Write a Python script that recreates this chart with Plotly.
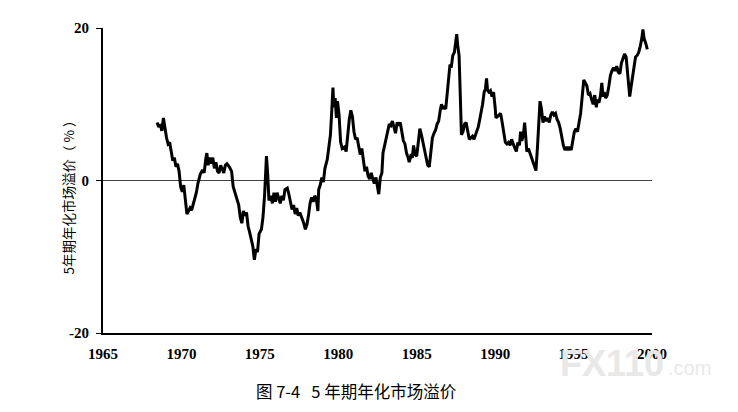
import plotly.graph_objects as go

# 5-year annualised market premium (%)
years = [
    1968.45, 1968.55, 1968.65, 1968.75, 1968.85, 1968.95, 1969.05, 1969.15, 1969.25, 1969.35,
    1969.45, 1969.55, 1969.65, 1969.75, 1969.85, 1969.95, 1970.05, 1970.15, 1970.25, 1970.35,
    1970.45, 1970.55, 1970.65, 1970.75, 1970.85, 1970.95, 1971.05, 1971.2, 1971.35, 1971.45,
    1971.55, 1971.62, 1971.7, 1971.8, 1971.9, 1972.0, 1972.1, 1972.2, 1972.3, 1972.4,
    1972.5, 1972.6, 1972.7, 1972.8, 1972.9, 1973.05, 1973.2, 1973.3, 1973.45, 1973.55,
    1973.65, 1973.75, 1973.85, 1973.95, 1974.05, 1974.15, 1974.25, 1974.35, 1974.45, 1974.55,
    1974.65, 1974.75, 1974.85, 1974.95, 1975.1, 1975.2, 1975.3, 1975.42, 1975.5, 1975.58,
    1975.7, 1975.8, 1975.9, 1976.0, 1976.1, 1976.2, 1976.3, 1976.4, 1976.5, 1976.6,
    1976.75, 1976.85, 1976.95, 1977.05, 1977.15, 1977.25, 1977.35, 1977.45, 1977.55, 1977.7,
    1977.8, 1977.9, 1978.0, 1978.1, 1978.2, 1978.3, 1978.4, 1978.5, 1978.6, 1978.7,
    1978.75, 1978.85, 1978.95, 1979.05, 1979.15, 1979.3, 1979.4, 1979.5, 1979.58, 1979.66,
    1979.72, 1979.8, 1979.88, 1979.95, 1980.05, 1980.15, 1980.25, 1980.4, 1980.5, 1980.6,
    1980.7, 1980.8, 1980.9, 1981.0, 1981.1, 1981.2, 1981.3, 1981.4, 1981.5, 1981.6,
    1981.7, 1981.8, 1981.9, 1982.0, 1982.1, 1982.2, 1982.3, 1982.4, 1982.5, 1982.58,
    1982.68, 1982.78, 1982.85, 1982.95, 1983.05, 1983.15, 1983.25, 1983.35, 1983.45, 1983.55,
    1983.65, 1983.75, 1983.85, 1983.95, 1984.05, 1984.15, 1984.25, 1984.35, 1984.45, 1984.52,
    1984.62, 1984.72, 1984.8, 1984.9, 1985.0, 1985.1, 1985.2, 1985.3, 1985.4, 1985.5,
    1985.6, 1985.7, 1985.8, 1985.9, 1986.0, 1986.1, 1986.2, 1986.3, 1986.4, 1986.5,
    1986.58, 1986.66, 1986.75, 1986.85, 1986.95, 1987.05, 1987.12, 1987.2, 1987.3, 1987.4,
    1987.48, 1987.55, 1987.62, 1987.7, 1987.78, 1987.85, 1987.95, 1988.05, 1988.15, 1988.25,
    1988.35, 1988.45, 1988.55, 1988.65, 1988.75, 1988.85, 1988.92, 1989.0, 1989.1, 1989.2,
    1989.3, 1989.38, 1989.45, 1989.52, 1989.6, 1989.7, 1989.8, 1989.9, 1990.0, 1990.05,
    1990.15, 1990.25, 1990.35, 1990.45, 1990.55, 1990.65, 1990.75, 1990.85, 1990.95, 1991.05,
    1991.15, 1991.25, 1991.35, 1991.45, 1991.55, 1991.62, 1991.7, 1991.8, 1991.88, 1991.95,
    1992.02, 1992.12, 1992.22, 1992.32, 1992.42, 1992.52, 1992.6, 1992.7, 1992.8, 1992.86,
    1992.95, 1993.05, 1993.15, 1993.25, 1993.35, 1993.45, 1993.55, 1993.65, 1993.75, 1993.85,
    1993.95, 1994.05, 1994.15, 1994.25, 1994.35, 1994.45, 1994.55, 1994.65, 1994.75, 1994.85,
    1994.95, 1995.05, 1995.15, 1995.25, 1995.35, 1995.45, 1995.55, 1995.65, 1995.75, 1995.85,
    1995.95, 1996.05, 1996.15, 1996.25, 1996.35, 1996.45, 1996.52, 1996.62, 1996.72, 1996.8,
    1996.88, 1996.95, 1997.05, 1997.15, 1997.25, 1997.35, 1997.45, 1997.55, 1997.65, 1997.75,
    1997.85, 1997.95, 1998.05, 1998.15, 1998.25, 1998.35, 1998.42, 1998.5, 1998.58, 1998.66,
    1998.75, 1998.85, 1998.95, 1999.05, 1999.15, 1999.25, 1999.35, 1999.42, 1999.5, 1999.6,
    1999.7,
]
premium = [
    7.6, 7.0, 7.4, 6.5, 8.2, 6.8, 5.6, 4.8, 5.0, 3.8,
    2.6, 3.0, 1.8, 2.2, 1.2, -0.8, -1.5, -0.6, -2.8, -4.4,
    -4.0, -3.6, -3.9, -3.2, -2.2, -1.6, -0.4, 0.8, 1.4, 1.0,
    2.8, 3.6, 2.0, 3.0, 2.2, 3.0, 1.6, 2.4, 1.2, 1.0,
    2.0, 1.4, 1.0, 2.0, 2.2, 1.8, 1.2, -0.8, -1.8, -2.6,
    -3.2, -4.8, -5.6, -4.0, -4.6, -4.2, -6.0, -6.8, -7.8, -8.6,
    -10.4, -9.0, -9.4, -7.0, -6.4, -4.8, -2.0, 3.2, 0.8, -2.6,
    -2.0, -3.0, -1.6, -2.8, -1.6, -2.2, -3.0, -2.0, -2.6, -1.2,
    -1.0, -1.8, -2.8, -3.8, -3.2, -4.4, -3.6, -4.6, -4.2, -5.0,
    -5.6, -6.4, -5.8, -4.6, -3.0, -2.2, -2.8, -2.0, -2.4, -4.0,
    -1.2, -0.6, 0.4, -0.2, 1.6, 2.8, 4.4, 6.0, 9.0, 12.2,
    9.6, 10.8, 8.2, 10.4, 8.6, 5.0, 4.2, 4.4, 3.8, 6.2,
    8.0, 9.2, 8.4, 6.4, 5.4, 5.6, 4.4, 3.4, 4.2, 2.4,
    1.2, 1.8, 0.6, 0.2, 1.0, 0.2, -0.4, 0.4, -1.0, -1.8,
    0.4, 1.0, 3.6, 4.6, 5.6, 6.8, 7.4, 7.2, 7.8, 7.0,
    6.2, 7.6, 7.2, 7.6, 6.2, 5.2, 4.8, 3.6, 3.0, 2.4,
    3.2, 3.0, 4.6, 3.4, 3.2, 5.0, 6.8, 6.0, 5.0, 4.2,
    3.0, 2.0, 1.8, 3.8, 5.6, 6.2, 6.6, 7.4, 7.8, 9.2,
    10.0, 9.4, 9.6, 9.4, 11.6, 14.2, 15.2, 14.8, 16.4, 16.8,
    18.4, 19.2, 17.6, 16.4, 11.0, 6.0, 6.4, 7.4, 7.6, 6.2,
    5.4, 5.6, 5.8, 5.4, 6.0, 6.4, 7.0, 7.8, 8.8, 10.0,
    11.6, 12.0, 13.4, 11.8, 11.6, 11.8, 11.0, 11.6, 9.6, 8.2,
    8.4, 8.6, 8.8, 7.6, 6.0, 5.0, 4.8, 5.0, 4.6, 5.4,
    4.8, 4.2, 3.8, 5.0, 4.6, 6.4, 5.2, 6.0, 7.6, 5.8,
    3.8, 4.2, 3.6, 3.0, 2.4, 2.0, 1.3, 4.4, 8.0, 10.4,
    9.4, 7.6, 8.4, 7.8, 8.2, 7.6, 8.6, 9.0, 8.6, 8.8,
    8.0, 7.6, 6.8, 5.6, 4.6, 4.0, 4.4, 4.0, 4.4, 4.0,
    5.4, 6.4, 6.8, 6.4, 7.6, 8.8, 11.0, 13.2, 12.8, 12.4,
    11.2, 11.4, 10.6, 10.0, 11.2, 9.6, 10.6, 10.2, 11.2, 12.8,
    11.0, 11.6, 10.8, 11.2, 12.4, 13.8, 14.4, 14.8, 14.4, 15.0,
    14.2, 14.0, 15.4, 16.0, 16.6, 16.2, 14.8, 12.4, 11.0, 12.2,
    13.6, 15.0, 16.2, 16.4, 16.8, 17.6, 18.6, 19.8, 18.6, 18.0,
    17.2,
]

x_ticks = [1965, 1970, 1975, 1980, 1985, 1990, 1995, 2000]
y_ticks = [-20, 0, 20]
y_tick_text = ["-20", "0", "20"]

fig = go.Figure()
fig.add_trace(go.Scatter(x=years, y=premium, mode="lines",
                         line=dict(color="black", width=3), showlegend=False))

tick_font = dict(family="Liberation Serif", size=15, color="black", weight="bold")

# page has an 8px body margin, so margins are shifted by that
fig.update_layout(
    width=738, height=412,
    margin=dict(l=95, r=94, t=14, b=87),
    paper_bgcolor="white", plot_bgcolor="white",
    xaxis=dict(range=[1965, 2000], tickvals=x_ticks, showgrid=False, zeroline=False,
               showline=True, linecolor="black", linewidth=2, ticks="",
               tickfont=tick_font, ticklabelstandoff=6),
    yaxis=dict(range=[-20, 20], tickvals=y_ticks, ticktext=y_tick_text, showgrid=False,
               zeroline=True, zerolinecolor="#444", zerolinewidth=1,
               showline=True, linecolor="black", linewidth=2,
               ticks="outside", ticklen=5, tickcolor="black",
               tickfont=tick_font, ticklabelstandoff=4),
    annotations=[
        dict(text="5年期年化市场溢价（ % ）", xref="paper", yref="paper",
             x=-0.086, y=0.457, textangle=-90, showarrow=False,
             font=dict(family="Noto Sans CJK SC", size=13.5, color="black")),
        dict(text="图 7-4\u00a0\u00a0\u00a05 年期年化市场溢价", xref="paper", yref="paper",
             x=0.46, y=-0.19, showarrow=False, yanchor="middle",
             font=dict(family="Noto Sans CJK SC", size=16.5, color="black")),
        dict(text="<b>FX110</b>", xref="paper", yref="paper",
             x=1.026, y=-0.1, xanchor="right", yanchor="middle", showarrow=False,
             font=dict(family="Liberation Sans", size=36, color="#e8e8e8")),
        dict(text=".com", xref="paper", yref="paper",
             x=1.026, y=-0.115, xanchor="left", yanchor="middle", showarrow=False,
             font=dict(family="Liberation Sans", size=20, color="#e8e8e8")),
    ],
)

fig.write_html("out.html")
